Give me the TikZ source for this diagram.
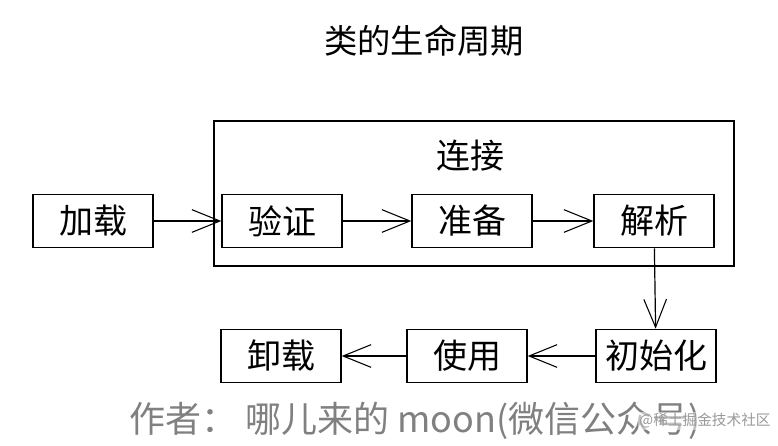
\documentclass[tikz,border=0pt]{standalone}
\usepackage{fontspec}
\setmainfont{Noto Sans CJK SC}
\usetikzlibrary{arrows.meta}
\tikzset{
    stagebox/.style={draw, line width=1pt, minimum width=90pt, minimum height=40pt, inner sep=0pt, font=\fontsize{25.5}{28}\selectfont},
    flow/.style={-{Straight Barb[length=21pt, width=17pt, line width=0.8pt]}, line width=0.9pt}
}
\begin{document}
\begin{tikzpicture}[x=0.75pt, y=-0.75pt]
    \useasboundingbox (0,0) rectangle (778,446);
    \node (title) at (424,41) {\fontsize{25}{28}\selectfont 类的生命周期};
    \node[draw, line width=1pt, minimum width=390pt, minimum height=108.75pt, inner sep=0pt] (link) at (474,193.5) {};
    \node (linktitle) at (470,156) {\fontsize{25.5}{28}\selectfont 连接};
    \node[stagebox] (load) at (93,221) {加载};
    \node[stagebox] (verify) at (282,221) {验证};
    \node[stagebox] (prepare) at (472,221) {准备};
    \node[stagebox] (resolve) at (654,221) {解析};
    \node[stagebox] (init) at (656,356) {初始化};
    \node[stagebox] (use) at (467,356) {使用};
    \node[stagebox] (unload) at (281,356) {卸载};
    \draw[flow] (load) -- (verify);
    \draw[flow] (verify) -- (prepare);
    \draw[flow] (prepare) -- (resolve);
    \draw[flow] (resolve) -- (init);
    \draw[flow] (init) -- (use);
    \draw[flow] (use) -- (unload);
    \node[text=black!50] (author) at (415,421) {\fontsize{27}{30}\selectfont 作者： 哪儿来的 moon(微信公众号)};
    \node[text=black!40, fill=white, fill opacity=0.5, text opacity=1, inner sep=1pt] (mark) at (705,421) {\fontsize{11}{13}\selectfont @稀土掘金技术社区};
\end{tikzpicture}
\end{document}
